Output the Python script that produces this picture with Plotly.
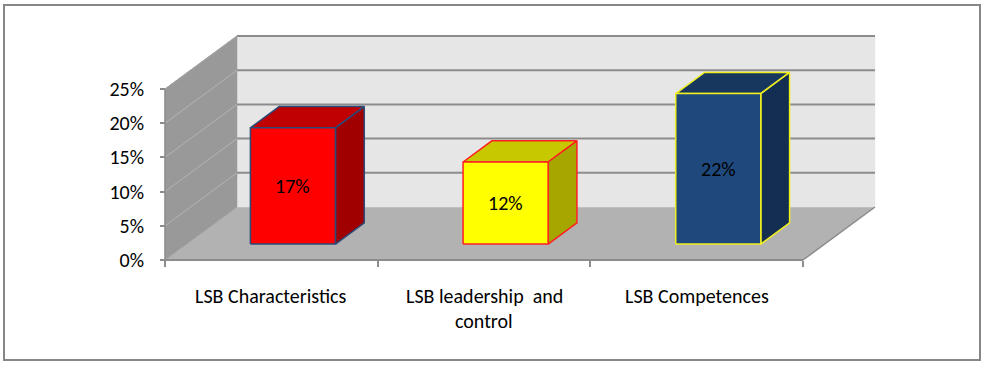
import plotly.graph_objects as go

# ---------------- data ----------------
categories = ["LSB Characteristics", "LSB leadership  and|control", "LSB Competences"]
values = [17, 12, 22]
value_labels = ["17%", "12%", "22%"]
y_ticks = [0, 5, 10, 15, 20, 25]
y_tick_labels = ["0%", "5%", "10%", "15%", "20%", "25%"]

# ---------------- styles ----------------
face_colors = ["#FF0000", "#FFFF00", "#1F497D"]
top_colors = ["#C00000", "#C8C800", "#17375E"]
side_colors = ["#A00000", "#A6A600", "#142E52"]
edge_colors = ["#2A4A7A", "#FF2020", "#F0F020"]
FONT = "Carlito, 'Liberation Sans Narrow', 'Open Sans', sans-serif"
FS = 20

# pixel geometry of the oblique projection
KX = 638 / 3.0       # px per category unit
KY = 171 / 25.0      # px per percent
DEPTH_X = 72 / KX    # depth offset in x units
DEPTH_Y = 53 / KY    # depth offset in y units
BAR_W = 0.40
D0, D1 = 0.30, 0.70  # bar depth span (fraction of floor depth)
n = len(categories)
ymax = max(y_ticks)

fig = go.Figure()

def poly(xs, ys, fill, line_color, lw=1):
    fig.add_trace(go.Scatter(x=xs + [xs[0]], y=ys + [ys[0]], mode="lines", fill="toself",
                             fillcolor=fill, line=dict(color=line_color, width=lw),
                             hoverinfo="skip", showlegend=False))

def seg(x0, y0, x1, y1, color, lw=1):
    fig.add_trace(go.Scatter(x=[x0, x1], y=[y0, y1], mode="lines",
                             line=dict(color=color, width=lw),
                             hoverinfo="skip", showlegend=False))

# floor
poly([0, n, n + DEPTH_X, DEPTH_X], [0, 0, DEPTH_Y, DEPTH_Y], "#B2B2B2", "#B2B2B2", 0.5)
# back wall
poly([DEPTH_X, n + DEPTH_X, n + DEPTH_X, DEPTH_X],
     [DEPTH_Y, DEPTH_Y, ymax + DEPTH_Y, ymax + DEPTH_Y], "#E6E6E6", "#E6E6E6", 0.5)
# left wall
poly([0, 0, DEPTH_X, DEPTH_X], [0, ymax, ymax + DEPTH_Y, DEPTH_Y], "#999999", "#999999", 0.5)

# gridlines
for v in y_ticks[1:]:
    seg(DEPTH_X, v + DEPTH_Y, n + DEPTH_X, v + DEPTH_Y, "#8C8C8C", 2)
    seg(0, v, DEPTH_X, v + DEPTH_Y, "#B4B4B4", 1)
# edges
seg(0, 0, n, 0, "#8C8C8C", 2)
seg(n, 0, n + DEPTH_X, DEPTH_Y, "#8C8C8C", 1.5)
seg(0, 0, 0, ymax, "#8C8C8C", 1.5)
seg(0, ymax, DEPTH_X, ymax + DEPTH_Y, "#A0A0A0", 1)

# bars
for i, v in enumerate(values):
    c = i + 0.5
    xl, xr = c - BAR_W / 2, c + BAR_W / 2
    fx0, fy0 = D0 * DEPTH_X, D0 * DEPTH_Y
    bx0, by0 = D1 * DEPTH_X, D1 * DEPTH_Y
    ec = edge_colors[i]
    poly([xl + fx0, xr + fx0, xr + bx0, xl + bx0], [v + fy0, v + fy0, v + by0, v + by0],
         top_colors[i], ec, 1.5)
    poly([xr + fx0, xr + bx0, xr + bx0, xr + fx0], [fy0, by0, v + by0, v + fy0],
         side_colors[i], ec, 1.5)
    poly([xl + fx0, xr + fx0, xr + fx0, xl + fx0], [fy0, fy0, v + fy0, v + fy0],
         face_colors[i], ec, 1.5)
    fig.add_annotation(x=c + fx0, y=v / 2 + fy0, text=value_labels[i], showarrow=False,
                       font=dict(family=FONT, size=FS, color="#000000"))

# category labels
for i, cat in enumerate(categories):
    for j, line in enumerate(cat.split("|")):
        fig.add_annotation(x=i + 0.5, y=0, text=line, showarrow=False, yanchor="middle",
                           yshift=-36 - 25 * j,
                           font=dict(family=FONT, size=FS, color="#000000"))

PL, PB = 150, 270
fig.update_layout(
    width=986, height=366,
    margin=dict(l=PL, r=0, t=0, b=366 - PB),
    paper_bgcolor="white", plot_bgcolor="white",
    showlegend=False,
    xaxis=dict(range=[(PL - 165) / KX, (986 - 165) / KX], showgrid=False, zeroline=False,
               tickvals=list(range(n + 1)), showticklabels=False, ticks="outside",
               ticklen=6, tickcolor="#8C8C8C", tickwidth=1.5,
               anchor="free", position=(PB - 260) / PB, fixedrange=True),
    yaxis=dict(range=[-(PB - 260) / KY, 260 / KY], showgrid=False, zeroline=False,
               tickvals=y_ticks, ticktext=y_tick_labels, ticks="outside", ticklen=5,
               tickcolor="#8C8C8C", tickwidth=1.5, ticklabelstandoff=12,
               tickfont=dict(family=FONT, size=FS, color="#000000"),
               anchor="free", position=(165 - PL) / (986 - PL), fixedrange=True),
    shapes=[dict(type="rect", xref="paper", yref="paper",
                 x0=(4 - PL) / (986 - PL), x1=(980 - PL) / (986 - PL),
                 y0=(PB - 360) / PB, y1=(PB - 5) / PB,
                 line=dict(color="#878787", width=2), fillcolor="rgba(0,0,0,0)")],
)

fig.write_html("out.html", config={"displayModeBar": False},
               post_script="document.body.style.margin='0';document.body.style.overflow='hidden';")
